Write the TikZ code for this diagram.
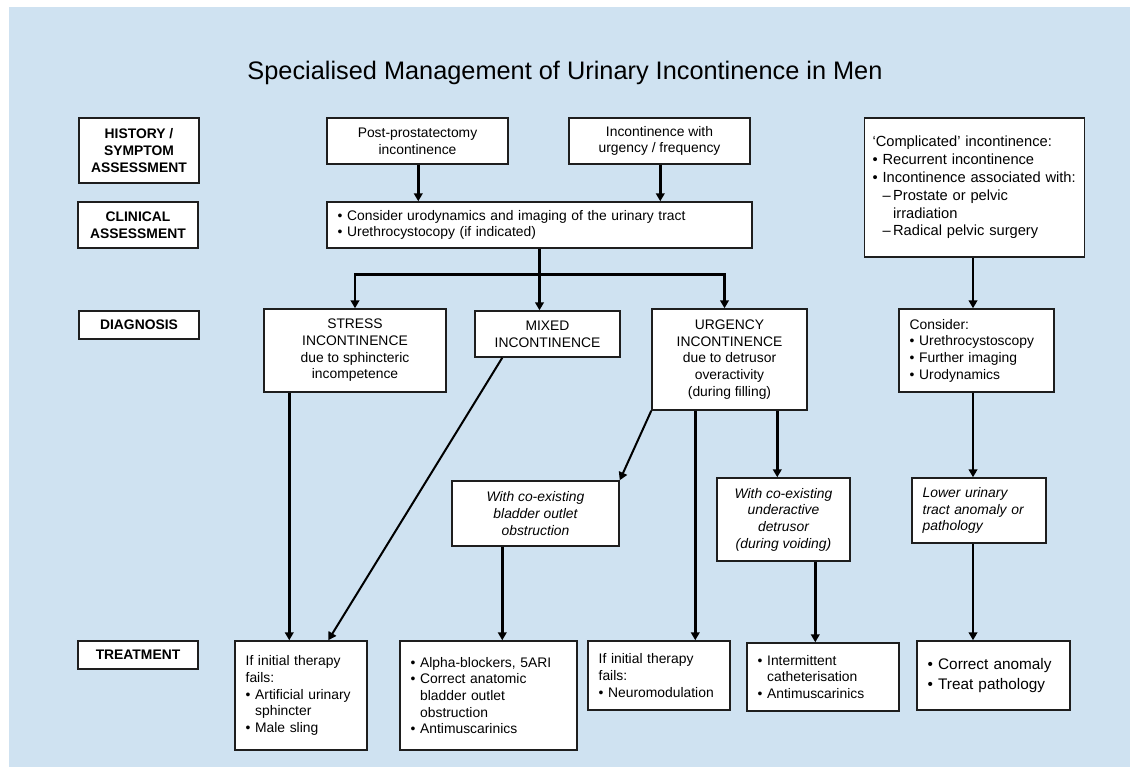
\documentclass[tikz,border=0pt]{standalone}
\usepackage{fontspec}
\setmainfont{Liberation Sans}
\usetikzlibrary{arrows.meta, positioning, calc}
\definecolor{bgblue}{RGB}{207,226,241}
\definecolor{boxline}{RGB}{30,30,30}
\newcommand{\lbul}{\textbullet\ }
\newcommand{\lpad}{\phantom{\textbullet\ }}

\begin{document}
\begin{tikzpicture}[x=0.75pt, y=-0.75pt,
    block/.style={draw=boxline, line width=1.1pt, fill=white, align=center, inner sep=0pt,
        font=\fontsize{10.4}{12.5}\selectfont},
    listblock/.style={block, align=left, inner xsep=8pt},
    stage/.style={block, font=\fontsize{10.4}{12.5}\selectfont\bfseries},
    arrow/.style={-{Triangle[length=6pt, width=6.5pt]}, line width=2.2pt},
    thinarrow/.style={-{Triangle[length=6pt, width=6.5pt]}, line width=1.5pt}
]
    \useasboundingbox (0,0) rectangle (1130,767);
    \fill[bgblue] (9,7) rectangle (1130,767);

    % Title
    \node[font=\fontsize{19}{23}\selectfont] (title) at (565,73) {Specialised Management of Urinary Incontinence in Men};

    % Stages
    \node[stage, minimum width=90pt, minimum height=48.75pt] (hist) at (139,150.5) {HISTORY /\\SYMPTOM\\ASSESSMENT};
    \node[stage, minimum width=90pt, minimum height=34.5pt] (clin) at (138,225) {CLINICAL\\ASSESSMENT};
    \node[stage, minimum width=90pt, minimum height=21pt] (diag) at (139,325) {DIAGNOSIS};
    \node[stage, minimum width=90pt, minimum height=21pt] (treat) at (138,655) {TREATMENT};

    % History / clinical assessment
    \node[block, minimum width=135.75pt, minimum height=34.5pt] (post) at (417.5,141) {Post-prostatectomy\\incontinence};
    \node[block, minimum width=135.75pt, minimum height=34.5pt] (inc) at (659.5,141) {Incontinence with\\urgency / frequency};
    \node[listblock, text width=302.75pt, minimum height=34.5pt] (consid) at (539.5,225) {\lbul Consider urodynamics and imaging of the urinary tract\\\lbul Urethrocystocopy (if indicated)};
    \node[listblock, inner xsep=6pt, text width=153pt, minimum height=104.25pt, font=\fontsize{11}{13.4}\selectfont] (compl) at (974.5,187.5) {‘Complicated’ incontinence:\\\lbul Recurrent incontinence\\\lbul Incontinence associated with:\\\lpad–\,Prostate or pelvic\\\lpad\phantom{–\,}irradiation\\\lpad–\,Radical pelvic surgery};

    % Diagnosis
    \node[block, minimum width=136.5pt, minimum height=62.25pt] (stress) at (355,350.5) {STRESS\\INCONTINENCE\\due to sphincteric\\incompetence};
    \node[block, minimum width=108.75pt, minimum height=34.5pt] (mixed) at (547.5,334) {MIXED\\INCONTINENCE};
    \node[block, minimum width=116.25pt, minimum height=75.75pt] (urge) at (729.5,359.5) {URGENCY\\INCONTINENCE\\due to detrusor\\overactivity\\(during filling)};
    \node[listblock, text width=100.25pt, minimum height=62.25pt] (further) at (976.5,350.5) {Consider:\\\lbul Urethrocystoscopy\\\lbul Further imaging\\\lbul Urodynamics};

    % Sub-groups
    \node[block, minimum width=125.25pt, minimum height=48.75pt, font=\fontsize{10.4}{12.5}\selectfont\itshape] (boo) at (535.5,513.5) {With co-existing\\bladder outlet\\obstruction};
    \node[block, minimum width=99.75pt, minimum height=62.25pt, font=\fontsize{10.4}{12.5}\selectfont\itshape] (under) at (783.5,519.5) {With co-existing\\underactive\\detrusor\\(during voiding)};
    \node[listblock, text width=84.5pt, minimum height=48.75pt, font=\fontsize{10.4}{12.5}\selectfont\itshape] (lower) at (979,510.5) {Lower urinary\\tract anomaly or\\pathology};

    % Treatment
    \node[listblock, text width=83pt, minimum height=81.75pt] (sling) at (301,695.5) {If initial therapy\\fails:\\\lbul Artificial urinary\\\lpad sphincter\\\lbul Male sling};
    \node[listblock, text width=116.75pt, minimum height=81.75pt] (alpha) at (488.5,695.5) {\lbul Alpha-blockers, 5ARI\\\lbul Correct anatomic\\\lpad bladder outlet\\\lpad obstruction\\\lbul Antimuscarinics};
    \node[listblock, text width=90.5pt, minimum height=51.75pt] (neuro) at (659,675.5) {If initial therapy\\fails:\\\lbul Neuromodulation};
    \node[listblock, text width=98pt, minimum height=51pt] (cath) at (823,677) {\lbul Intermittent\\\lpad catheterisation\\\lbul Antimuscarinics};
    \node[listblock, text width=98.75pt, minimum height=51.75pt, font=\fontsize{11.5}{14.5}\selectfont] (anomaly) at (993.5,675.5) {\lbul Correct anomaly\\\lbul Treat pathology};

    % Connections
    \coordinate (p1) at ($(post.south west)+(92,0)$);
    \coordinate (p2) at ($(inc.south west)+(92,0)$);
    \draw[arrow] (p1) -- (p1 |- consid.north);
    \draw[arrow] (p2) -- (p2 |- consid.north);

    \coordinate (split) at ($(consid.south)+(0,26)$);
    \draw[line width=2.2pt] (consid.south) -- (split);
    \draw[arrow] (split) -| (stress.north);
    \draw[arrow] (split) -- (split |- mixed.north);
    \draw[arrow] (split) -| ($(urge.north)+(-5,0)$);

    \coordinate (c1) at ($(compl.south)+(-1.5,0)$);
    \draw[arrow] (c1) -- (c1 |- further.north);
    \draw[arrow] (c1 |- further.south) -- (c1 |- lower.north);
    \draw[arrow] (c1 |- lower.south) -- (c1 |- anomaly.north);

    \coordinate (s1) at ($(stress.south west)+(26,0)$);
    \draw[arrow] (s1) -- (s1 |- sling.north);
    \draw[thinarrow] ($(mixed.south west)+(28,0)$) -- ($(sling.north west)+(94,0)$);

    \draw[thinarrow] (urge.south west) -- (boo.north east);
    \coordinate (u1) at ($(urge.south west)+(44,0)$);
    \coordinate (u2) at ($(urge.south west)+(126,0)$);
    \draw[arrow] (u1) -- (u1 |- neuro.north);
    \draw[arrow] (u2) -- (u2 |- under.north);

    \coordinate (b1) at ($(boo.south west)+(51,0)$);
    \draw[arrow] (b1) -- (b1 |- alpha.north);
    \coordinate (d1) at ($(under.south west)+(99,0)$);
    \draw[arrow] (d1) -- (d1 |- cath.north);
\end{tikzpicture}
\end{document}
